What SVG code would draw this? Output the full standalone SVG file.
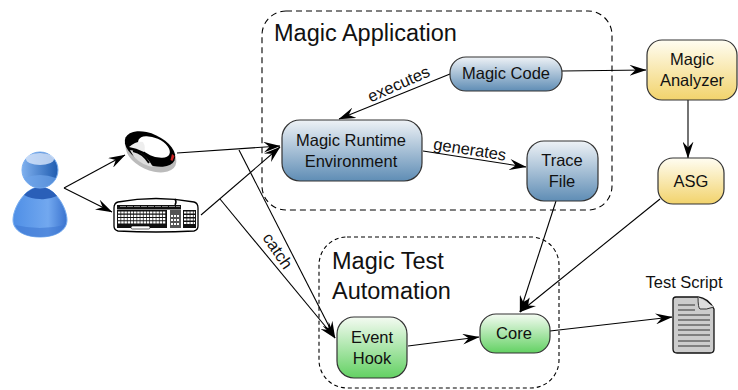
<svg xmlns="http://www.w3.org/2000/svg" width="738" height="390" viewBox="0 0 738 390">
<defs>
<linearGradient id="blue" x1="0" y1="0" x2="0" y2="1"><stop offset="0" stop-color="#eef2f6"/><stop offset="1" stop-color="#5f8db5"/></linearGradient>
<linearGradient id="yellow" x1="0" y1="0" x2="0" y2="1"><stop offset="0" stop-color="#fffdf2"/><stop offset="1" stop-color="#f2d36c"/></linearGradient>
<linearGradient id="green" x1="0" y1="0" x2="0" y2="1"><stop offset="0" stop-color="#f4fbf2"/><stop offset="1" stop-color="#63d163"/></linearGradient>
<linearGradient id="body" x1="0" y1="0" x2="1" y2="0"><stop offset="0" stop-color="#4f8fe6"/><stop offset="0.65" stop-color="#72a8ef"/><stop offset="1" stop-color="#3a73cf"/></linearGradient>
<linearGradient id="head" x1="0" y1="0" x2="1" y2="0"><stop offset="0" stop-color="#7fb0ee"/><stop offset="1" stop-color="#1f5cb0"/></linearGradient>
<marker id="a" viewBox="0 0 17 11" refX="16.500" refY="5.500" markerWidth="17" markerHeight="11" markerUnits="userSpaceOnUse" orient="auto"><path d="M0 0L17 5.500L0 11L6 5.500Z" fill="#000"/></marker>
</defs>
<style>
text{font-family:"Liberation Sans",Arial,sans-serif;fill:#111}
.n{stroke:#333;stroke-width:1.2}
.t{font-size:16.500px;text-anchor:middle}
.h{font-size:23.500px}
.c{fill:none;stroke:#000;stroke-width:1.1;marker-end:url(#a)}
.k{fill:none;stroke:#000;stroke-width:1.1}
.w{fill:none;stroke:#fff;stroke-width:2.200}
</style>
<g id="magic-application"><rect class="k" x="262" y="11" width="350" height="199" rx="24" stroke-dasharray="6 4"/><text class="h" x="274" y="41">Magic Application</text></g>
<g id="magic-test-automation"><rect class="k" x="319" y="237" width="240" height="151" rx="28" stroke-dasharray="4 3"/><text class="h" x="332" y="269">Magic Test</text><text class="h" x="332" y="299">Automation</text></g>
<g id="connectors">
<path class="c" d="M64 188L125 155"/>
<path class="c" d="M64 188L112 212"/>
<path class="c" d="M177 153L280 146"/>
<path class="c" d="M201 215L280 147"/>
<path class="c" d="M239 150L335 338"/>
<path class="c" d="M220 199L335 338"/>
<path class="c" d="M450 74L339 119"/>
<path class="c" d="M423 151L526 167"/>
<path class="c" d="M562 71L646 70"/>
<path class="c" d="M688 100V158"/>
<path class="c" d="M556 201L520 312"/>
<path class="c" d="M660 199L520 312"/>
<path class="c" d="M408 346L479 337"/>
<path class="c" d="M550 331L672 317"/>
</g>
<text class="t" x="401" y="89" transform="rotate(-24 401 89)">executes</text>
<text class="t" x="469" y="155" transform="rotate(9 469 155)">generates</text>
<text class="t" x="273" y="254" transform="rotate(56 273 254)">catch</text>
<g id="magic-code"><rect class="n" x="450" y="57" width="112" height="34" rx="16" fill="url(#blue)"/><text class="t" x="506" y="79">Magic Code</text></g>
<g id="runtime"><rect class="n" x="282" y="120" width="140" height="61" rx="18" fill="url(#blue)"/><text class="t" x="351" y="146">Magic Runtime</text><text class="t" x="351" y="167">Environment</text></g>
<g id="trace-file"><rect class="n" x="527" y="141" width="71" height="60" rx="17" fill="url(#blue)"/><text class="t" x="562" y="166">Trace</text><text class="t" x="562" y="187">File</text></g>
<g id="analyzer"><rect class="n" x="647" y="40" width="90" height="60" rx="15" fill="url(#yellow)"/><text class="t" x="692" y="65">Magic</text><text class="t" x="692" y="86">Analyzer</text></g>
<g id="asg"><rect class="n" x="658" y="158" width="66" height="46" rx="15" fill="url(#yellow)"/><text class="t" x="691" y="187">ASG</text></g>
<g id="event-hook"><rect class="n" x="337" y="317" width="70" height="61" rx="17" fill="url(#green)"/><text class="t" x="372" y="343">Event</text><text class="t" x="372" y="364">Hook</text></g>
<g id="core"><rect class="n" x="480" y="314" width="70" height="39" rx="16" fill="url(#green)"/><text class="t" x="514" y="339">Core</text></g>
<g id="user">
<path d="M40 187C55 187 67 208 67 220C67 231 55 237 40 237C25 237 13 231 13 220C13 208 25 187 40 187Z" fill="url(#body)" stroke="#79aef0"/>
<path d="M24 195Q32 187 40 187Q50 187 57 196Q48 200 40 199Q31 199 24 195Z" fill="#2a5fb8"/>
<path d="M15 225Q40 231 65 225Q60 237 40 237Q20 237 15 225Z" fill="#3f78d2" opacity="0.6"/>
<circle cx="40" cy="170" r="18" fill="url(#head)" stroke="#79aef0"/>
<ellipse cx="40" cy="159" rx="14" ry="6" fill="#d8e6fb" opacity="0.8"/>
<path d="M24 178Q40 172 56 178Q50 188 40 188Q30 188 24 178Z" fill="#6ea4ea" opacity="0.7"/>
</g>
<g id="mouse">
<ellipse cx="151" cy="154" rx="27" ry="16" transform="rotate(25 151 154)" fill="#bbb"/>
<ellipse cx="150" cy="149" rx="27" ry="15" transform="rotate(25 150 149)" fill="#000"/>
<ellipse cx="154" cy="147" rx="17" ry="9" transform="rotate(25 154 147)" fill="#fff"/>
<path d="M129 147Q136 141 143 142Q146 147 144 152Q136 148 129 147Z" fill="#eee"/>
<path d="M130 150Q145 152 153 167Q142 165 134 157Z" fill="#ddd"/>
<path d="M133 151Q143 153 149 163" stroke="#000" stroke-width="1.800" fill="none"/>
<path d="M172 154L174.500 156L172.500 161L170.500 160Z" fill="#c22"/>
</g>
<g id="keyboard">
<path d="M118 202Q156 195 194 202Q198 203 198 208V226Q198 230 194 231Q156 233 118 231Q114 230 114 226V208Q114 203 118 202Z" fill="#fff" stroke="#000" stroke-width="1.300"/>
<rect x="117" y="205" width="64" height="4.500" fill="#111"/>
<rect x="117" y="210" width="50" height="18" fill="#111"/>
<rect x="170" y="210" width="11" height="18" fill="#555"/>
<rect x="183" y="210" width="13" height="18" fill="#111"/>
<path class="w" d="M118 212.500H166M118 215.800H166M118 219.100H166M118 222.400H166" stroke-dasharray="2.500 0.700" stroke-width="2"/>
<path class="w" d="M184 212.500H195M184 216H195M184 219.500H195M184 223H195" stroke-dasharray="2.500 0.700" stroke-width="2"/>
<path class="w" d="M171 216H180M171 220H180M171 224H180" stroke-dasharray="2 1" stroke-width="1.500"/>
<path d="M120 206.500H180" stroke="#888" stroke-width="1" stroke-dasharray="6 1" fill="none"/>
<rect x="131" y="226" width="19" height="3" rx="1.500" fill="#fff" stroke="#000" stroke-width="0.600"/>
<path d="M175 199Q177 202 175 205" stroke="#000" stroke-width="1.500" fill="none"/>
</g>
<g id="document">
<path d="M676 297H698Q708 298 714 309V349Q714 353 710 353H677Q673 353 673 349V300Q673 297 676 297Z" fill="#ccc" stroke="#111" stroke-width="1.300"/>
<path d="M698 297Q698 308 700 309Q706 310 714 307" fill="#ddd" stroke="#333"/>
<path d="M678 305H695M678 310H695M678 315H710M678 320H710M678 325H710M678 330H710M678 335H710M678 341H710M678 346H710" stroke="#333" stroke-width="1.200"/>
<text x="684" y="288" font-size="16.500" text-anchor="middle">Test Script</text>
</g>
</svg>
